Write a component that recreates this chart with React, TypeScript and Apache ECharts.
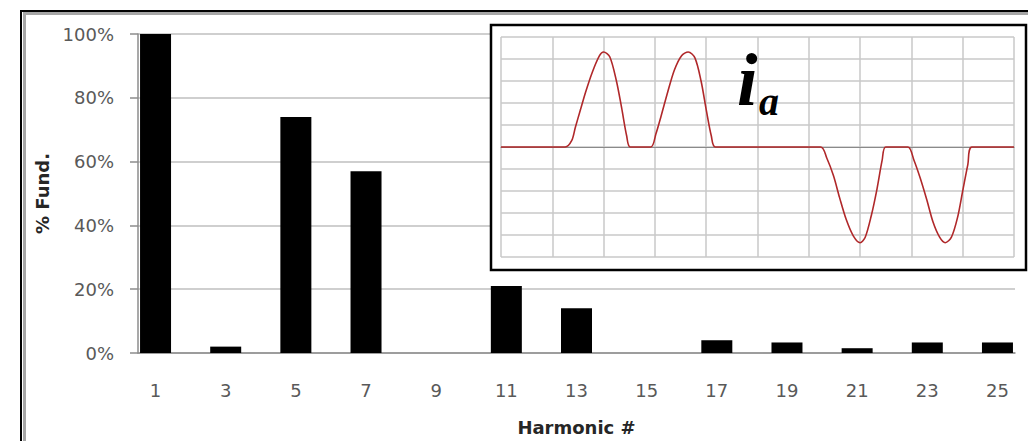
import React, { useEffect, useRef } from "react";
import * as echarts from "echarts";

// Category axis: harmonic numbers (labels shown on odd ones)
const harmonics = [
  "1", "2", "3", "4", "5", "6", "7", "8", "9", "10", "11", "12", "13",
  "14", "15", "16", "17", "18", "19", "20", "21", "22", "23", "24", "25",
];
// Odd harmonics and their magnitude in % of fundamental
const oddHarmonics = ["1", "3", "5", "7", "9", "11", "13", "15", "17", "19", "21", "23", "25"];
const fundPercent = [100, 2, 74, 57, 0, 21, 14, 0, 4, 3.3, 1.5, 3.3, 3.3];

// Y axis ticks (percent)
const yMin = 0;
const yMax = 100;
const yStep = 20;

// Inset waveform i_a (time in grid divisions, current in grid divisions)
const waveT = [
  0, 1.25, 1.38, 1.45, 1.55, 1.65, 1.78, 1.92, 2.0, 2.12, 2.25, 2.35, 2.45, 2.52,
  2.92, 3.02, 3.12, 3.25, 3.38, 3.52, 3.65, 3.78, 3.9, 4.0, 4.1, 4.18,
  6.23, 6.35, 6.48, 6.6, 6.73, 6.87, 7.0, 7.1, 7.22, 7.33, 7.43, 7.5,
  7.93, 8.05, 8.17, 8.3, 8.42, 8.55, 8.66, 8.78, 8.9, 9.0, 9.1, 9.18, 10,
];
const waveI = [
  0, 0, 0.3, 0.9, 1.7, 2.5, 3.4, 4.15, 4.32, 4.1, 3.0, 1.8, 0.5, 0,
  0, 0.6, 1.4, 2.5, 3.5, 4.15, 4.32, 4.05, 3.0, 1.7, 0.5, 0,
  0, -0.5, -1.3, -2.3, -3.3, -4.05, -4.35, -4.1, -3.1, -1.9, -0.6, 0,
  0, -0.6, -1.4, -2.4, -3.4, -4.1, -4.35, -4.1, -3.2, -2.0, -0.8, 0, 0,
];

const labelColor = "#595959";
const fontFam = "DejaVu Sans";

export default function App() {
  const ref = useRef<HTMLDivElement>(null);

  useEffect(() => {
    if (!ref.current) return;
    const chart = echarts.init(ref.current, undefined, { renderer: "svg" });

    const barData = harmonics.map((h) => {
      const idx = oddHarmonics.indexOf(h);
      return idx >= 0 ? fundPercent[idx] : "-";
    });
    const waveData = waveT.map((t, i) => [t, waveI[i]]);

    chart.setOption({
      animation: false,
      backgroundColor: "#ffffff",
      grid: [
        { left: 138, top: 34, width: 877, height: 319 },
        { left: 501, top: 37, width: 513, height: 220 },
      ],
      xAxis: [
        {
          type: "category",
          gridIndex: 0,
          data: harmonics,
          name: "Harmonic #",
          nameLocation: "middle",
          nameGap: 65,
          nameTextStyle: {
            fontFamily: fontFam,
            fontWeight: "bold",
            fontSize: 18,
            color: "#262626",
          },
          axisLine: { lineStyle: { color: "#8c8c8c", width: 1.5 } },
          axisTick: {
            interval: 0,
            length: 8,
            lineStyle: { color: "#8c8c8c", width: 1.5 },
          },
          axisLabel: {
            interval: 1,
            margin: 28,
            fontFamily: fontFam,
            fontSize: 18,
            color: labelColor,
          },
          splitLine: { show: false },
        },
        {
          type: "value",
          gridIndex: 1,
          min: 0,
          max: 10,
          interval: 1,
          z: 5,
          axisLine: { show: true, onZero: true, lineStyle: { color: "#8a8a8a", width: 1.2 } },
          axisTick: { show: false },
          axisLabel: { show: false },
          splitLine: { show: true, lineStyle: { color: "#c8c8c8", width: 1.5 } },
        },
      ],
      yAxis: [
        {
          type: "value",
          gridIndex: 0,
          min: yMin,
          max: yMax,
          interval: yStep,
          name: "% Fund.",
          nameLocation: "middle",
          nameGap: 85,
          nameRotate: 90,
          nameTextStyle: {
            fontFamily: fontFam,
            fontWeight: "bold",
            fontSize: 18,
            color: "#262626",
          },
          axisLine: { show: true, lineStyle: { color: "#8c8c8c", width: 1.5 } },
          axisTick: { show: true, length: 8, lineStyle: { color: "#8c8c8c", width: 1.5 } },
          axisLabel: {
            formatter: "{value}%",
            margin: 24,
            fontFamily: fontFam,
            fontSize: 18,
            color: labelColor,
          },
          splitLine: { lineStyle: { color: "#bfbfbf", width: 1.5 } },
        },
        {
          type: "value",
          gridIndex: 1,
          min: -5,
          max: 5,
          interval: 1,
          z: 5,
          axisLine: { show: false },
          axisTick: { show: false },
          axisLabel: { show: false },
          splitLine: { show: true, lineStyle: { color: "#c8c8c8", width: 1.5 } },
        },
      ],
      series: [
        {
          type: "bar",
          xAxisIndex: 0,
          yAxisIndex: 0,
          data: barData,
          barWidth: 31,
          itemStyle: { color: "#000000" },
        },
        {
          type: "line",
          xAxisIndex: 1,
          yAxisIndex: 1,
          data: waveData,
          z: 6,
          smooth: 0.3,
          showSymbol: false,
          symbol: "none",
          lineStyle: { color: "#b0282a", width: 1.6 },
        },
      ],
      graphic: [
        {
          type: "rect",
          z: 4,
          shape: { x: 491, y: 25, width: 535, height: 245 },
          style: { fill: "#ffffff", stroke: "#000000", lineWidth: 2.5 },
        },
        {
          type: "rect",
          z: 20,
          shape: { x: 24.5, y: 13.5, width: 1020, height: 440 },
          style: { fill: "none", stroke: "#a6a6a6", lineWidth: 3 },
        },
        {
          type: "rect",
          z: 21,
          shape: { x: 21, y: 11, width: 1020, height: 440 },
          style: { fill: "none", stroke: "#000000", lineWidth: 2 },
        },
        {
          type: "text",
          z: 10,
          x: 737,
          y: 80,
          style: {
            text: "i",
            fill: "#000000",
            font: 'italic bold 74px "Liberation Serif"',
            align: "left",
            verticalAlign: "middle",
          },
        },
        {
          type: "text",
          z: 10,
          x: 759,
          y: 101,
          style: {
            text: "a",
            fill: "#000000",
            font: 'italic bold 40px "Liberation Serif"',
            align: "left",
            verticalAlign: "middle",
          },
        },
      ],
    });

    return () => {
      chart.dispose();
    };
  }, []);

  return (
    <div
      ref={ref}
      style={{ position: "fixed", left: 0, top: 0, width: 1028, height: 441 }}
    />
  );
}
